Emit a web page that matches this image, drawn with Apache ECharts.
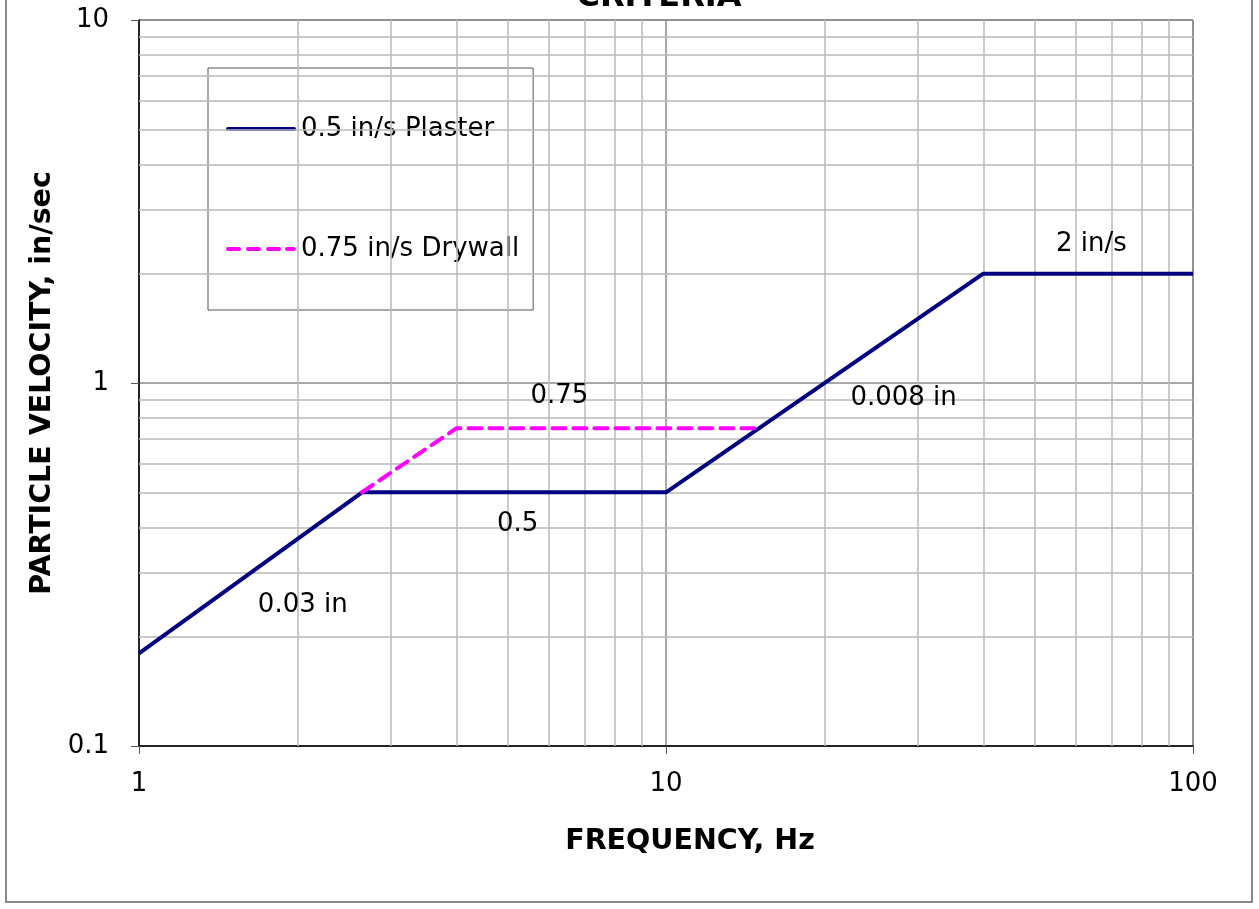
<!DOCTYPE html>
<html>
<head>
<meta charset="utf-8">
<script src="https://cdn.jsdelivr.net/npm/echarts@6/dist/echarts.min.js"></script>
<style>html,body{margin:0;padding:0;background:#fff;}#c{width:1259px;height:909px;}</style>
</head>
<body>
<div id="c"></div>
<script>
// ---- data ----
const plasterX = [1, 2.65, 10, 40, 100];
const plasterY = [0.18, 0.5, 0.5, 2, 2];
const drywallX = [2.65, 4, 15];
const drywallY = [0.5, 0.75, 0.75];
const seriesNames = ['0.5 in/s Plaster', '0.75 in/s Drywall'];
const annotTexts = ['0.75', '0.5', '0.03 in', '0.008 in', '2 in/s'];
const annotX = [6.29, 5.24, 2.05, 28.3, 64.3];
const annotY = [0.915, 0.406, 0.243, 0.904, 2.40];
const xMinor = [2, 3, 4, 5, 6, 7, 8, 9, 20, 30, 40, 50, 60, 70, 80, 90];
const yMinor = [0.2, 0.3, 0.4, 0.5, 0.6, 0.7, 0.8, 0.9, 2, 3, 4, 5, 6, 7, 8, 9];
const xTickLabels = {1: '1', 10: '10', 100: '100'};
const yTickLabels = {0.1: '0.1', 1: '1', 10: '10'};

const FONT = 'DejaVu Sans';
const chart = echarts.init(document.getElementById('c'));

const minorLines = xMinor.map(v => ({xAxis: v})).concat(yMinor.map(v => ({yAxis: v})));

const solidIcon = 'path://M2,0H68A2,2 0 0 1 68,4H2A2,2 0 0 1 2,0Z';
const dashIcon = 'path://M2,0H13A2,2 0 0 1 13,4H2A2,2 0 0 1 2,0Z M22,0H33A2,2 0 0 1 33,4H22A2,2 0 0 1 22,0Z M42,0H53A2,2 0 0 1 53,4H42A2,2 0 0 1 42,0Z M61,0H68A2,2 0 0 1 68,4H61A2,2 0 0 1 61,0Z';

chart.setOption({
  animation: false,
  backgroundColor: '#ffffff',
  textStyle: {fontFamily: FONT},
  graphic: [
    {type: 'rect', shape: {x: 6, y: -10, width: 1246, height: 912}, style: {fill: 'none', stroke: '#666', lineWidth: 1.5}, z: 0, silent: true},
    {type: 'text', x: 659, y: -2, style: {text: 'CRITERIA', font: 'bold 32px "DejaVu Sans"', fill: '#000', align: 'center', verticalAlign: 'middle'}, z: 10}
  ],
  grid: {left: 139, right: 66, top: 20, bottom: 163, show: true, borderColor: '#444', borderWidth: 1, backgroundColor: 'transparent', containLabel: false, outerBoundsMode: 'none'},
  legend: {
    data: [{name: seriesNames[0], icon: solidIcon}, {name: seriesNames[1], icon: dashIcon}],
    orient: 'vertical',
    left: 208, top: 68,
    itemWidth: 70, itemHeight: 4,
    itemGap: 90,
    padding: [46, 14, 46, 18],
    backgroundColor: '#fff',
    borderColor: '#555', borderWidth: 1,
    textStyle: {fontFamily: FONT, fontSize: 26, color: '#000', lineHeight: 30},
    selectedMode: false
  },
  xAxis: {
    type: 'log', logBase: 10, min: 1, max: 100,
    name: 'FREQUENCY, Hz', nameLocation: 'middle', nameGap: 81,
    nameTextStyle: {fontFamily: FONT, fontWeight: 'bold', fontSize: 28.5, color: '#000', padding: [0, 0, 0, 48]},
    axisLine: {show: true, lineStyle: {color: '#000', width: 1.5}},
    axisTick: {show: true, inside: false, length: 8, lineStyle: {color: '#555'}},
    axisLabel: {fontFamily: FONT, fontSize: 26, color: '#000', margin: 25, formatter: v => xTickLabels[Math.round(v)] || ''},
    splitLine: {show: true, lineStyle: {color: '#8c8c8c', width: 1.5}}
  },
  yAxis: {
    type: 'log', logBase: 10, min: 0.1, max: 10,
    name: 'PARTICLE VELOCITY, in/sec', nameLocation: 'middle', nameGap: 77,
    nameTextStyle: {fontFamily: FONT, fontWeight: 'bold', fontSize: 28.5, color: '#000'},
    axisLine: {show: true, lineStyle: {color: '#000', width: 1.5}},
    axisTick: {show: true, inside: false, length: 8, lineStyle: {color: '#555'}},
    axisLabel: {fontFamily: FONT, fontSize: 26, color: '#000', margin: 30, formatter: v => {
      const k = v < 0.5 ? 0.1 : (v < 5 ? 1 : 10);
      return yTickLabels[k];
    }},
    splitLine: {show: true, lineStyle: {color: '#8c8c8c', width: 1.5}}
  },
  series: [
    {
      name: 'minorGrid', type: 'line', data: [], silent: true, z: 1,
      markLine: {silent: true, symbol: ['none', 'none'], label: {show: false}, animation: false,
        lineStyle: {type: 'solid', color: '#b8b8b8', width: 1.5}, emphasis: {disabled: true}, data: minorLines}
    },
    {
      name: seriesNames[0], type: 'line', z: 5,
      data: plasterX.map((x, i) => [x, plasterY[i]]),
      showSymbol: false, symbol: 'none',
      lineStyle: {color: '#000080', width: 4},
      itemStyle: {color: '#000080'}
    },
    {
      name: seriesNames[1], type: 'line', z: 6,
      data: drywallX.map((x, i) => [x, drywallY[i]]),
      showSymbol: false, symbol: 'none',
      lineStyle: {color: '#ff00ff', width: 4, type: [13, 8], cap: 'round'},
      itemStyle: {color: '#ff00ff'}
    },
    {
      name: 'annotations', type: 'scatter', z: 7, silent: true,
      symbolSize: 1, itemStyle: {color: 'rgba(0,0,0,0)'},
      data: annotTexts.map((t, i) => ({name: t, value: [annotX[i], annotY[i]]})),
      label: {show: true, position: [0, 0], align: 'center', verticalAlign: 'middle', formatter: p => p.name,
        fontFamily: FONT, fontSize: 26, color: '#000', textBorderWidth: 0, opacity: 1}
    }
  ]
});
</script>
</body>
</html>
